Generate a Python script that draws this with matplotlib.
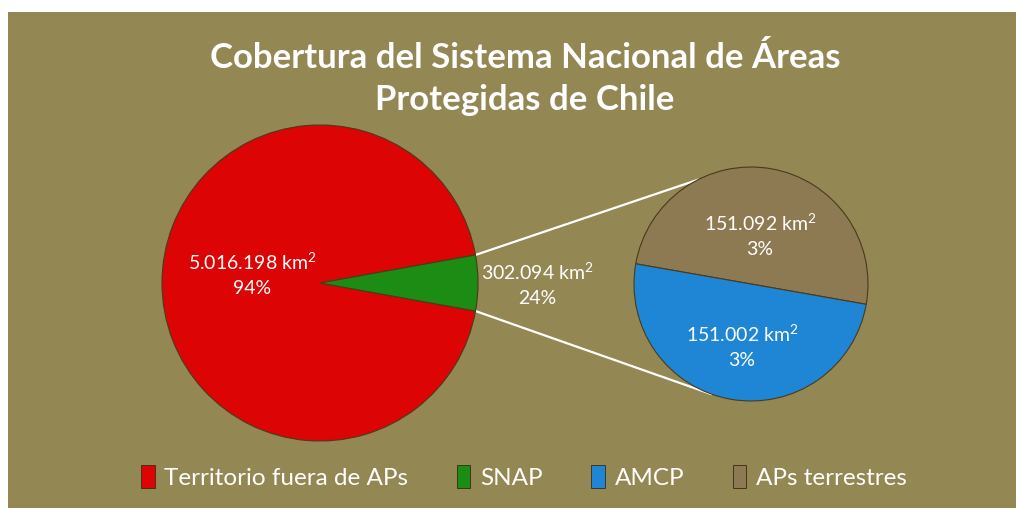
import matplotlib
matplotlib.use('Agg')
import numpy as np
import matplotlib.pyplot as plt
from matplotlib.patches import Rectangle, Patch

plt.rcParams['font.family'] = ['Lato', 'DejaVu Sans']
plt.rcParams['mathtext.fontset'] = 'custom'
plt.rcParams['mathtext.rm'] = 'Lato'
plt.rcParams['mathtext.it'] = 'Lato'
plt.rcParams['mathtext.bf'] = 'Lato:bold'

# Data
main_labels = ['Territorio fuera de APs', 'SNAP']
main_values = [5016198, 302094]
main_texts = ['5.016.198 km$^{2}$\n94%', '302.094 km$^{2}$\n24%']
sub_labels = ['APs terrestres', 'AMCP']
sub_values = [151092, 151002]
sub_texts = ['151.092 km$^{2}$\n3%', '151.002 km$^{2}$\n3%']

legend_order = ['Territorio fuera de APs', 'SNAP', 'AMCP', 'APs terrestres']
colors = {'Territorio fuera de APs': '#dc0404',
          'SNAP': '#1c8c14',
          'AMCP': '#1f86d6',
          'APs terrestres': '#8e7a52'}
bg = '#938753'

W, H = 1016, 508
fig = plt.figure(figsize=(W / 100, H / 100), dpi=100, facecolor='white')
fig.patches.append(Rectangle((8 / W, 0), 1 - 8 / W, 1 - 12 / H,
                             transform=fig.transFigure, facecolor=bg,
                             edgecolor='none', zorder=-10))

ax = fig.add_axes([0, 0, 1, 1])
ax.set_aspect('equal')

# main pie
c1 = (320, H - 283)
r1 = 158
green_deg = 360 * main_values[1] / sum(main_values)
ax.pie(main_values, colors=[colors[l] for l in main_labels],
       startangle=green_deg / 2, center=c1, radius=r1, frame=True,
       wedgeprops=dict(edgecolor='#4a3a1a', linewidth=0.8))

# sub pie
c2 = (751, H - 284)
r2 = 117
ax.pie(sub_values, colors=[colors[l] for l in sub_labels],
       startangle=-10, center=c2, radius=r2, frame=True,
       wedgeprops=dict(edgecolor='#4a3a1a', linewidth=0.8))

ax.set_xlim(0, W)
ax.set_ylim(0, H)
ax.axis('off')

# connector lines
for a1, a2 in [(green_deg / 2, 117), (-green_deg / 2, 250)]:
    p1 = (c1[0] + r1 * np.cos(np.radians(a1)), c1[1] + r1 * np.sin(np.radians(a1)))
    p2 = (c2[0] + r2 * np.cos(np.radians(a2)), c2[1] + r2 * np.sin(np.radians(a2)))
    ax.plot([p1[0], p2[0]], [p1[1], p2[1]], color='white', lw=1.6, zorder=0)

# data labels
lab_kw = dict(color='white', fontsize=14, ha='center', va='center', linespacing=1.5)
ax.text(252, H - 274, main_texts[0], **lab_kw)
ax.text(537, H - 284, main_texts[1], **lab_kw)
ax.text(760, H - 235, sub_texts[0], **lab_kw)
ax.text(742, H - 346, sub_texts[1], **lab_kw)

fig.text(525 / W, 1 - 79 / H, 'Cobertura del Sistema Nacional de Áreas\nProtegidas de Chile',
         color='white', fontsize=25, fontweight='bold', ha='center', va='center',
         linespacing=1.4)

handles = [Patch(facecolor=colors[l], edgecolor='#3a2a10', linewidth=0.6) for l in legend_order]
leg = fig.legend(handles, legend_order, loc='center', bbox_to_anchor=(524 / W, 1 - 477 / H),
                 ncol=4, frameon=False, fontsize=17.5, handlelength=0.55, handleheight=1.1,
                 handletextpad=0.4, columnspacing=2.0, labelcolor='white')

fig.savefig('out.png', dpi=100, facecolor=fig.get_facecolor())
